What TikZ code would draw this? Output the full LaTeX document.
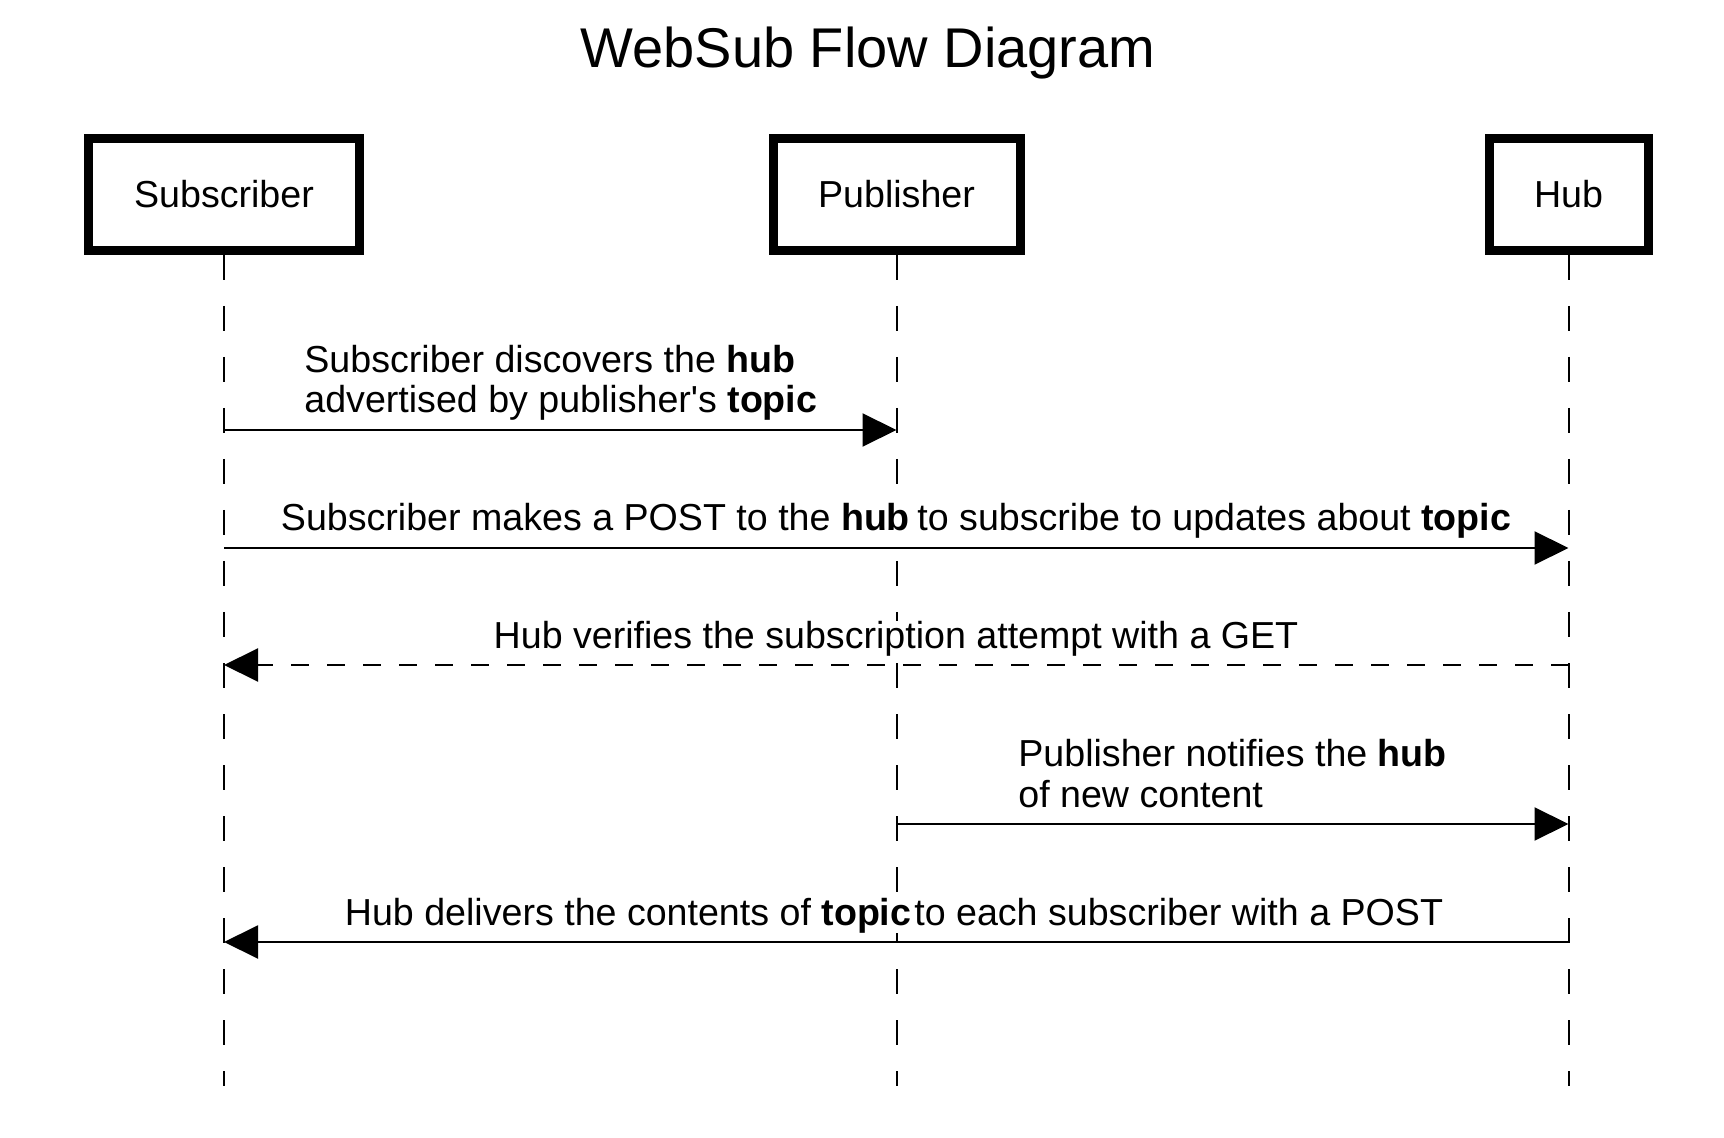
\documentclass[tikz,border=0pt]{standalone}
\usepackage{fontspec}
\setmainfont{Liberation Sans}
\usetikzlibrary{arrows.meta}
\begin{document}
\begin{tikzpicture}[x=0.5pt,y=-0.5pt,
  actor/.style={draw, line width=4.5pt, minimum height=56pt, inner sep=0pt, font=\fontsize{18.8}{22}\selectfont},
  lifeline/.style={line width=1pt, dash pattern=on 12.5pt off 13pt},
  msg/.style={line width=1pt, -{Triangle[length=17pt,width=16.5pt]}},
  reply/.style={msg, dash pattern=on 9pt off 9pt},
  lbl/.style={fill=white, inner sep=0pt, font=\fontsize{18.8}{22}\selectfont},
  ttl/.style={inner sep=0pt, font=\fontsize{28}{32}\selectfont}]
\useasboundingbox (0,0) rectangle (1724,1138);
\node[ttl, anchor=base] (title) at (868,68) {WebSub Flow Diagram};
\node[actor, minimum width=135.5pt] (sub) at (224,194.5) {Subscriber};
\node[actor, minimum width=123.5pt] (pub) at (896.5,194.5) {Publisher};
\node[actor, minimum width=79.5pt] (hub) at (1568.5,194.5) {Hub};
\coordinate (subE) at (224,1086);
\coordinate (pubE) at (896.5,1086);
\coordinate (hubE) at (1568.5,1086);
\draw[lifeline] (sub.south) -- (subE);
\draw[lifeline] (pub.south) -- (pubE);
\draw[lifeline] (hub.south) -- (hubE);
% message end points
\coordinate (m1a) at (224,430);   \coordinate (m1b) at (896.5,430);
\coordinate (m2a) at (224,548);   \coordinate (m2b) at (1568.5,548);
\coordinate (m3a) at (1568.5,665);\coordinate (m3b) at (224,665);
\coordinate (m4a) at (896.5,824); \coordinate (m4b) at (1568.5,824);
\coordinate (m5a) at (1568.5,942);\coordinate (m5b) at (224,942);
\draw[msg] (m1a) -- (m1b);
\draw[msg] (m2a) -- (m2b);
\draw[reply] (m3a) -- (m3b);
\draw[msg] (m4a) -- (m4b);
\draw[msg] (m5a) -- (m5b);
% labels
\node[lbl, anchor=base west] (t1a) at (304,372.5) {Subscriber discovers the \textbf{hub}};
\node[lbl, anchor=base west] (t1b) at (304,413) {advertised by publisher\textquotesingle s \textbf{topic}};
\node[lbl, anchor=base] (t2) at (896,531) {Subscriber makes a POST to the \textbf{hub}\hspace{0.2em}to subscribe to updates about \textbf{topic}};
\node[lbl, anchor=base] (t3) at (896,648) {Hub verifies the subscription attempt with a GET};
\node[lbl, anchor=base west] (t4a) at (1018,766.5) {Publisher notifies the \textbf{hub}};
\node[lbl, anchor=base west] (t4b) at (1018,807) {of new content};
\node[lbl, anchor=base] (t5) at (894,925) {Hub delivers the contents of \textbf{topic}\hspace{0.08em}to each subscriber with a POST};
\end{tikzpicture}
\end{document}
